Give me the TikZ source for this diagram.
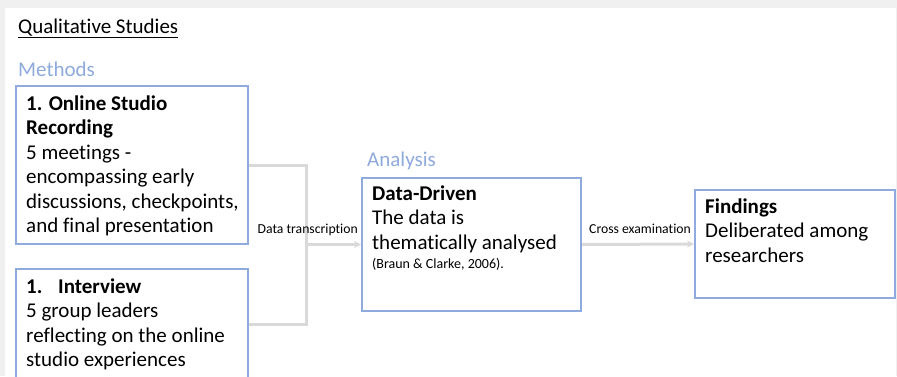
\documentclass[tikz,border=0pt]{standalone}
\usepackage{fontspec}
\setmainfont{Carlito}[Ligatures={NoCommon,NoRare,NoContextual}, RawFeature={-calt}]
\usetikzlibrary{arrows.meta}
\definecolor{boxblue}{HTML}{8FAADC}
\definecolor{conn}{HTML}{D9D9D9}
\definecolor{bggray}{HTML}{F0F0F0}
\newcommand{\bodyfont}{\fontsize{21}{24.5}\selectfont}
\newcommand{\smallfont}{\fontsize{13.7}{16}\selectfont}
\newcommand{\citefont}{\fontsize{14}{16}\selectfont}
\tikzset{
  box/.style={draw=boxblue, line width=2pt, fill=white, inner sep=0pt},
  boxtext/.style={anchor=north west, inner sep=0pt, align=left, font=\bodyfont},
  heading/.style={anchor=base west, inner sep=0pt, font=\bodyfont, text=boxblue},
  connector/.style={draw=conn, line width=3pt},
  arrowconn/.style={connector, -{Stealth[length=7pt,width=7pt]}},
  lbl/.style={inner sep=0pt, font=\smallfont},
}
\begin{document}
\begin{tikzpicture}[x=1pt,y=-1pt]
\fill[bggray] (0,0) rectangle (897,376);
\fill[white] (5,8) rectangle (896,376);
\useasboundingbox (0,0) rectangle (897,376);

\node[anchor=base west, inner sep=0pt, font=\bodyfont] (title) at (18,33.5) {\underline{Qualitative Studies}};
\node[heading] (methods) at (18,76) {Methods};
\node[heading] (analysislbl) at (367,166) {Analysis};

\node[box, minimum width=232pt, minimum height=158pt] (m1) at (132,165) {};
\node[box, minimum width=232pt, minimum height=110pt] (m2) at (132,324) {};
\node[box, minimum width=219pt, minimum height=133pt] (an) at (471.5,244.5) {};
\node[box, minimum width=200pt, minimum height=108pt] (fi) at (795,244) {};

\node[boxtext] (m1t) at (26,{110-17.15}) {\strut\textbf{1. Online Studio}\\\textbf{Recording}\\5 meetings -\\encompassing early\\discussions, checkpoints,\\and final presentation};
\node[boxtext] (m2t) at (26,{293-17.15}) {\strut\textbf{\makebox[32pt][l]{1.}Interview}\\5 group leaders\\reflecting on the online\\studio experiences};
\node[boxtext] (ant) at (372,{200-17.15}) {\strut\textbf{Data-Driven}\\The data is\\thematically analysed};
\node[inner sep=0pt, font=\citefont, anchor=base west] (cite) at (372,268) {(Braun \& Clarke, 2006).};
\node[boxtext] (fit) at (705,{213-17.15}) {\strut\textbf{Findings}\\Deliberated among\\researchers};

\coordinate (j) at (306,244.5);
\draw[connector] (m1.east) -| (j) |- (m2.east);
\draw[arrowconn] (j) -- (an.west);
\draw[arrowconn] (an.east) -- (fi.west);

\node[lbl, anchor=base east] (dt) at (358,233) {Data transcription};
\node[lbl, anchor=base west] (ce) at (589,233) {Cross examination};
\end{tikzpicture}
\end{document}
